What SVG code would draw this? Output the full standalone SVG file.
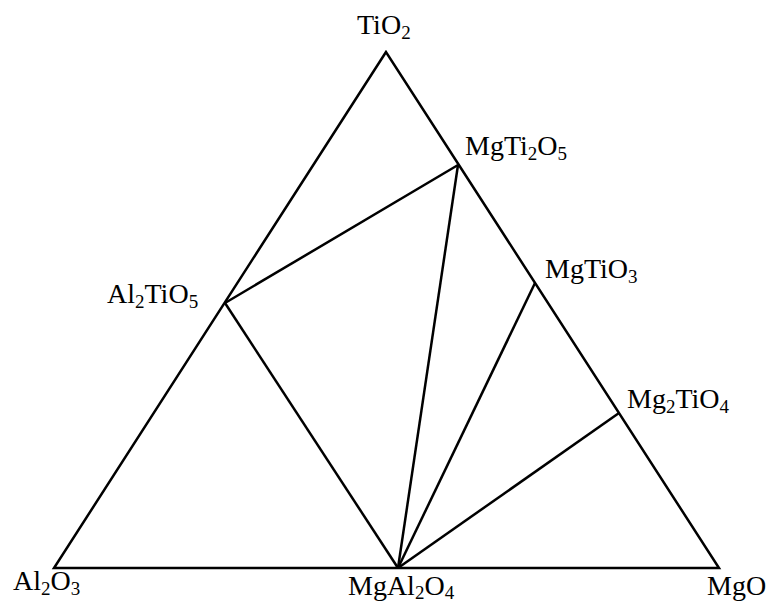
<svg xmlns="http://www.w3.org/2000/svg" width="772" height="604" viewBox="0 0 772 604">
<style>
.ln{stroke:#000;stroke-width:2.5;fill:none;stroke-linejoin:miter}
.lb{font-family:"Liberation Serif","Times New Roman",serif;font-size:28px;fill:#000}
.s{font-size:19px}
</style>
<rect width="772" height="604" fill="#fff"/>
<g id="connectors">
<polygon class="ln" points="386,52 54,568 719,568"/>
<line class="ln" x1="225" y1="303" x2="458" y2="165"/>
<line class="ln" x1="225" y1="303" x2="398" y2="568"/>
<line class="ln" x1="458" y1="165" x2="398" y2="568"/>
<line class="ln" x1="535" y1="283" x2="398" y2="568"/>
<line class="ln" x1="619" y1="413" x2="398" y2="568"/>
</g>
<g id="TiO2"><text class="lb" x="357" y="34">TiO<tspan class="s" dy="5">2</tspan></text></g>
<g id="Al2O3"><text class="lb" x="13" y="590">Al<tspan class="s" dy="5">2</tspan><tspan dy="-5">O</tspan><tspan class="s" dy="5">3</tspan></text></g>
<g id="MgAl2O4"><text class="lb" x="348" y="595">MgAl<tspan class="s" dy="4">2</tspan><tspan dy="-4">O</tspan><tspan class="s" dy="4">4</tspan></text></g>
<g id="MgO"><text class="lb" x="707" y="595">MgO</text></g>
<g id="MgTi2O5"><text class="lb" x="465" y="155">MgTi<tspan class="s" dy="5">2</tspan><tspan dy="-5">O</tspan><tspan class="s" dy="5">5</tspan></text></g>
<g id="MgTiO3"><text class="lb" x="545" y="278">MgTiO<tspan class="s" dy="5">3</tspan></text></g>
<g id="Mg2TiO4"><text class="lb" x="627" y="408">Mg<tspan class="s" dy="5">2</tspan><tspan dy="-5">TiO</tspan><tspan class="s" dy="5">4</tspan></text></g>
<g id="Al2TiO5"><text class="lb" x="107" y="303">Al<tspan class="s" dy="5">2</tspan><tspan dy="-5">TiO</tspan><tspan class="s" dy="5">5</tspan></text></g>
</svg>
